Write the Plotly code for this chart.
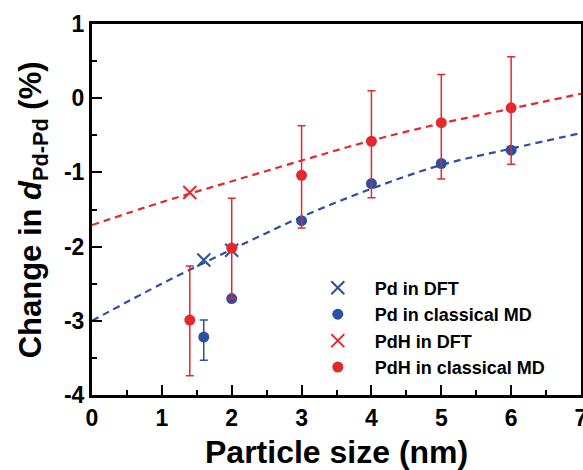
import plotly.graph_objects as go

# ---- data ----
pd_dft_x = [1.6, 2.0]
pd_dft_y = [-2.18, -2.05]

pdh_dft_x = [1.4]
pdh_dft_y = [-1.27]

pd_md_x = [1.6, 2.0, 3.0, 4.0, 5.0, 6.0]
pd_md_y = [-3.22, -2.70, -1.65, -1.15, -0.88, -0.70]
pd_md_err_plus = [0.23, 0.0, 0.0, 0.0, 0.0, 0.0]
pd_md_err_minus = [0.31, 0.0, 0.0, 0.0, 0.0, 0.0]

pdh_md_x = [1.4, 2.0, 3.0, 4.0, 5.0, 6.0]
pdh_md_y = [-2.99, -2.02, -1.04, -0.58, -0.33, -0.13]
pdh_md_err_plus = [0.73, 0.67, 0.67, 0.68, 0.65, 0.69]
pdh_md_err_minus = [0.75, 0.68, 0.71, 0.76, 0.76, 0.76]

fit_x = [0, 1, 2, 3, 4, 5, 6, 7]
pd_fit_y = [-3.00, -2.50, -2.04, -1.60, -1.22, -0.90, -0.68, -0.47]
pdh_fit_y = [-1.71, -1.40, -1.12, -0.84, -0.57, -0.34, -0.14, 0.06]

x_ticks = [0, 1, 2, 3, 4, 5, 6, 7]
y_ticks = [-4, -3, -2, -1, 0, 1]

BLUE = "#2c4fa1"
RED = "#e5282d"
FONT = "Arial, Liberation Sans, sans-serif"

fig = go.Figure()

fig.add_trace(go.Scatter(x=fit_x, y=pd_fit_y, mode="lines", line=dict(color=BLUE, width=2.2, dash="7px,5px", shape="spline"),
                         showlegend=False, hoverinfo="skip"))
fig.add_trace(go.Scatter(x=fit_x, y=pdh_fit_y, mode="lines", line=dict(color=RED, width=2.2, dash="7px,5px", shape="spline"),
                         showlegend=False, hoverinfo="skip"))

fig.add_trace(go.Scatter(x=pd_dft_x, y=pd_dft_y, mode="markers", name="Pd in DFT",
                         marker=dict(symbol="x-thin", size=13, line=dict(color=BLUE, width=2))))
fig.add_trace(go.Scatter(x=pd_md_x, y=pd_md_y, mode="markers", name="Pd in classical MD",
                         marker=dict(symbol="circle", size=11, color=BLUE, line=dict(width=0)),
                         error_y=dict(type="data", symmetric=False, array=pd_md_err_plus, arrayminus=pd_md_err_minus,
                                      color=BLUE, thickness=1.5, width=4)))
fig.add_trace(go.Scatter(x=pdh_dft_x, y=pdh_dft_y, mode="markers", name="PdH in DFT",
                         marker=dict(symbol="x-thin", size=13, line=dict(color=RED, width=2))))
fig.add_trace(go.Scatter(x=pdh_md_x, y=pdh_md_y, mode="markers", name="PdH in classical MD",
                         marker=dict(symbol="circle", size=11, color=RED, line=dict(width=0)),
                         error_y=dict(type="data", symmetric=False, array=pdh_md_err_plus, arrayminus=pdh_md_err_minus,
                                      color=RED, thickness=1.5, width=4)))

axis_common = dict(
    showline=True, linecolor="black", linewidth=3, mirror=True,
    ticks="inside", ticklen=10, tickwidth=2, tickcolor="black",
    showgrid=False, zeroline=False, automargin=False, ticklabeloverflow="allow",
    tickfont=dict(family=FONT, size=23, color="black", weight="bold"),
)

fig.update_xaxes(range=[0, 7], tickvals=x_ticks, ticktext=[str(v) for v in x_ticks],
                 minor=dict(ticks="inside", ticklen=5, tickwidth=2, tickcolor="black", dtick=0.5),
                 **axis_common)
fig.update_yaxes(range=[-4, 1], tickvals=y_ticks, ticktext=[str(v) for v in y_ticks],
                 minor=dict(ticks="inside", ticklen=5, tickwidth=2, tickcolor="black", dtick=0.5),
                 **axis_common)

fig.add_annotation(text="Particle size (nm)", xref="paper", yref="paper", x=0.5, y=-0.154,
                   xanchor="center", yanchor="middle", showarrow=False,
                   font=dict(family=FONT, size=32, color="black", weight="bold"))
fig.add_annotation(text="Change in <i>d</i><sub>Pd-Pd</sub> (%)", xref="paper", yref="paper", x=-0.121, y=0.5,
                   xanchor="center", yanchor="middle", textangle=-90, showarrow=False,
                   font=dict(family=FONT, size=31, color="black", weight="bold"))

fig.update_layout(
    width=583, height=470,
    margin=dict(l=92, r=2, t=24, b=75),
    paper_bgcolor="white", plot_bgcolor="white",
    legend=dict(x=0.427, y=0.338, xanchor="left", yanchor="top", bgcolor="rgba(0,0,0,0)",
                itemwidth=64, font=dict(family=FONT, size=18, color="black", weight="bold"),
                tracegroupgap=0),
)

fig.write_html("out.html", config={"displayModeBar": False},
               post_script="document.body.style.margin='0';document.body.style.overflow='hidden';"
                           "document.documentElement.style.overflow='hidden';")
